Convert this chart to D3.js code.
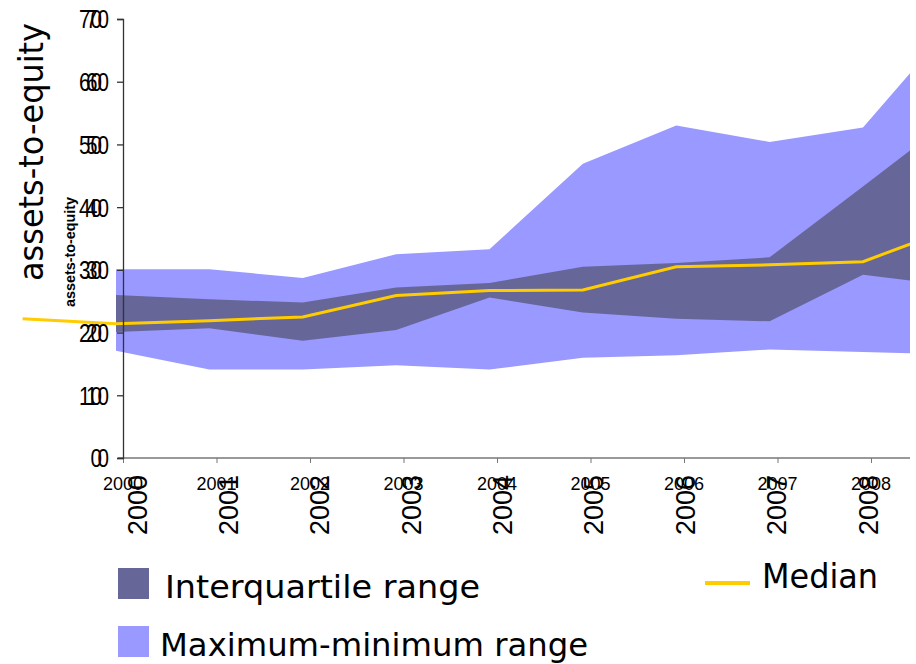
<!DOCTYPE html>
<html>
<head>
<meta charset="utf-8">
<script src="https://cdn.jsdelivr.net/npm/d3@7"></script>
<style>
  body { margin: 0; background: #fff; }
  svg { display: block; }
</style>
</head>
<body>
<svg id="chart" width="916" height="664"></svg>
<script>
// values (assets-to-equity ratio)
var medianYears = [1999, 2000, 2001, 2002, 2003, 2004, 2005, 2006, 2007, 2008, 2009];
var medianVals = [22.2, 21.4, 21.9, 22.5, 25.9, 26.7, 26.8, 30.5, 30.8, 31.3, 36.9];

var bandYears = [2000, 2001, 2002, 2003, 2004, 2005, 2006, 2007, 2008, 2009];
var maxVals = [30.1, 30.1, 28.7, 32.5, 33.3, 46.9, 53.0, 50.4, 52.7, 69.9];
var minVals = [17.1, 14.1, 14.1, 14.8, 14.1, 16.0, 16.4, 17.3, 16.9, 16.5];
var q3Vals = [26.0, 25.3, 24.8, 27.2, 27.9, 30.5, 31.1, 32.0, 43.3, 54.7];
var q1Vals = [20.1, 20.7, 18.7, 20.4, 25.6, 23.2, 22.2, 21.8, 29.2, 27.4];

var tickYears = ["2000", "2001", "2002", "2003", "2004", "2005", "2006", "2007", "2008"];
var yTicks = [0, 10, 20, 30, 40, 50, 60, 70];

var svg = d3.select("#chart");
var plot = {left: 123, right: 910, top: 19, bottom: 458};

var y = d3.scaleLinear().domain([0, 70]).range([plot.bottom, plot.top]);

// the series sit a little left of the tick marks
var xData = d3.scaleLinear().domain([2000, 2008]).range([116, 863]);
var xAxis = d3.scalePoint().domain(tickYears).range([123, 871]);
var xRot = d3.scalePoint().domain(tickYears).range([137, 868]);

svg.append("defs").append("clipPath").attr("id", "clip")
  .append("rect").attr("x", 0).attr("y", 0).attr("width", plot.right).attr("height", 664);

var bands = bandYears.map(function(yr, i) {
  return {year: yr, max: maxVals[i], min: minVals[i], q3: q3Vals[i], q1: q1Vals[i]};
});
var med = medianYears.map(function(yr, i) { return {year: yr, v: medianVals[i]}; });

var g = svg.append("g").attr("clip-path", "url(#clip)");

g.append("path")
  .datum(bands)
  .attr("fill", "#9999ff")
  .attr("d", d3.area()
    .x(function(d) { return xData(d.year); })
    .y0(function(d) { return y(d.min); })
    .y1(function(d) { return y(d.max); }));

g.append("path")
  .datum(bands)
  .attr("fill", "#666699")
  .attr("d", d3.area()
    .x(function(d) { return xData(d.year); })
    .y0(function(d) { return y(d.q1); })
    .y1(function(d) { return y(d.q3); }));

g.append("path")
  .datum(med)
  .attr("fill", "none")
  .attr("stroke", "#ffcc00")
  .attr("stroke-width", 3)
  .attr("d", d3.line()
    .x(function(d) { return xData(d.year); })
    .y(function(d) { return y(d.v); }));

// x axis
var gx = svg.append("g")
  .attr("transform", "translate(0," + plot.bottom + ")")
  .call(d3.axisBottom(xAxis).tickSize(5).tickFormat(""));
gx.select(".domain").remove();
gx.selectAll("line").attr("stroke", "#777");
gx.append("line")
  .attr("x1", 118).attr("x2", plot.right)
  .attr("stroke", "#777").attr("stroke-width", 1.5);

svg.append("g").selectAll("text")
  .data(tickYears)
  .enter().append("text")
    .attr("x", function(d) { return xAxis(d); })
    .attr("y", 490)
    .attr("text-anchor", "middle")
    .attr("font-family", "Liberation Sans, Arial, sans-serif")
    .attr("font-size", 18)
    .text(function(d) { return d; });

svg.append("g").selectAll("text")
  .data(tickYears)
  .enter().append("text")
    .attr("transform", function(d) { return "translate(" + (xRot(d) + 9.5) + ",535) rotate(-90)"; })
    .attr("font-family", "Liberation Sans, Arial, sans-serif")
    .attr("font-size", 27)
    .text(function(d) { return d; });

// y axis
var gy = svg.append("g")
  .attr("transform", "translate(" + plot.left + ",0)")
  .call(d3.axisLeft(y).tickValues(yTicks).tickSize(6).tickFormat(""));
gy.selectAll("path, line").attr("stroke", "#333").attr("stroke-width", 1.3);

// two copies of the tick labels, offset from each other
[102, 109].forEach(function(xr) {
  svg.append("g").selectAll("text")
    .data(yTicks)
    .enter().append("text")
      .attr("x", xr)
      .attr("y", function(d) { return y(d); })
      .attr("dy", "0.36em")
      .attr("text-anchor", "end")
      .attr("font-family", "Liberation Sans, Arial, sans-serif")
      .attr("font-size", 26)
      .attr("textLength", function(d) { return String(d).length * 11.5; })
      .attr("lengthAdjust", "spacingAndGlyphs")
      .text(function(d) { return d; });
});

svg.append("text")
  .attr("transform", "translate(43,152) rotate(-90)")
  .attr("text-anchor", "middle")
  .attr("font-family", "DejaVu Sans, sans-serif")
  .attr("font-size", 33)
  .attr("textLength", 258)
  .attr("lengthAdjust", "spacingAndGlyphs")
  .text("assets-to-equity");

svg.append("text")
  .attr("transform", "translate(75,252) rotate(-90)")
  .attr("text-anchor", "middle")
  .attr("font-family", "Liberation Sans, Arial, sans-serif")
  .attr("font-weight", "bold")
  .attr("font-size", 15)
  .attr("textLength", 110)
  .attr("lengthAdjust", "spacingAndGlyphs")
  .text("assets-to-equity");

// legend
var legend = [
  {label: "Interquartile range", color: "#666699", y: 568, tx: 165, len: 315},
  {label: "Maximum-minimum range", color: "#9999ff", y: 626, tx: 160, len: 428}
];
var lg = svg.append("g").selectAll("g").data(legend).enter().append("g");
lg.append("rect")
  .attr("x", 118).attr("y", function(d) { return d.y; })
  .attr("width", 31).attr("height", 31)
  .attr("fill", function(d) { return d.color; });
lg.append("text")
  .attr("x", function(d) { return d.tx; })
  .attr("y", function(d) { return d.y + 30; })
  .attr("font-family", "DejaVu Sans, sans-serif")
  .attr("font-size", 32)
  .attr("textLength", function(d) { return d.len; })
  .attr("lengthAdjust", "spacingAndGlyphs")
  .text(function(d) { return d.label; });

svg.append("line")
  .attr("x1", 705).attr("x2", 750).attr("y1", 583).attr("y2", 583)
  .attr("stroke", "#ffcc00").attr("stroke-width", 4);
svg.append("text")
  .attr("x", 762).attr("y", 588)
  .attr("font-family", "DejaVu Sans, sans-serif")
  .attr("font-size", 33)
  .attr("textLength", 116)
  .attr("lengthAdjust", "spacingAndGlyphs")
  .text("Median");
</script>
</body>
</html>
